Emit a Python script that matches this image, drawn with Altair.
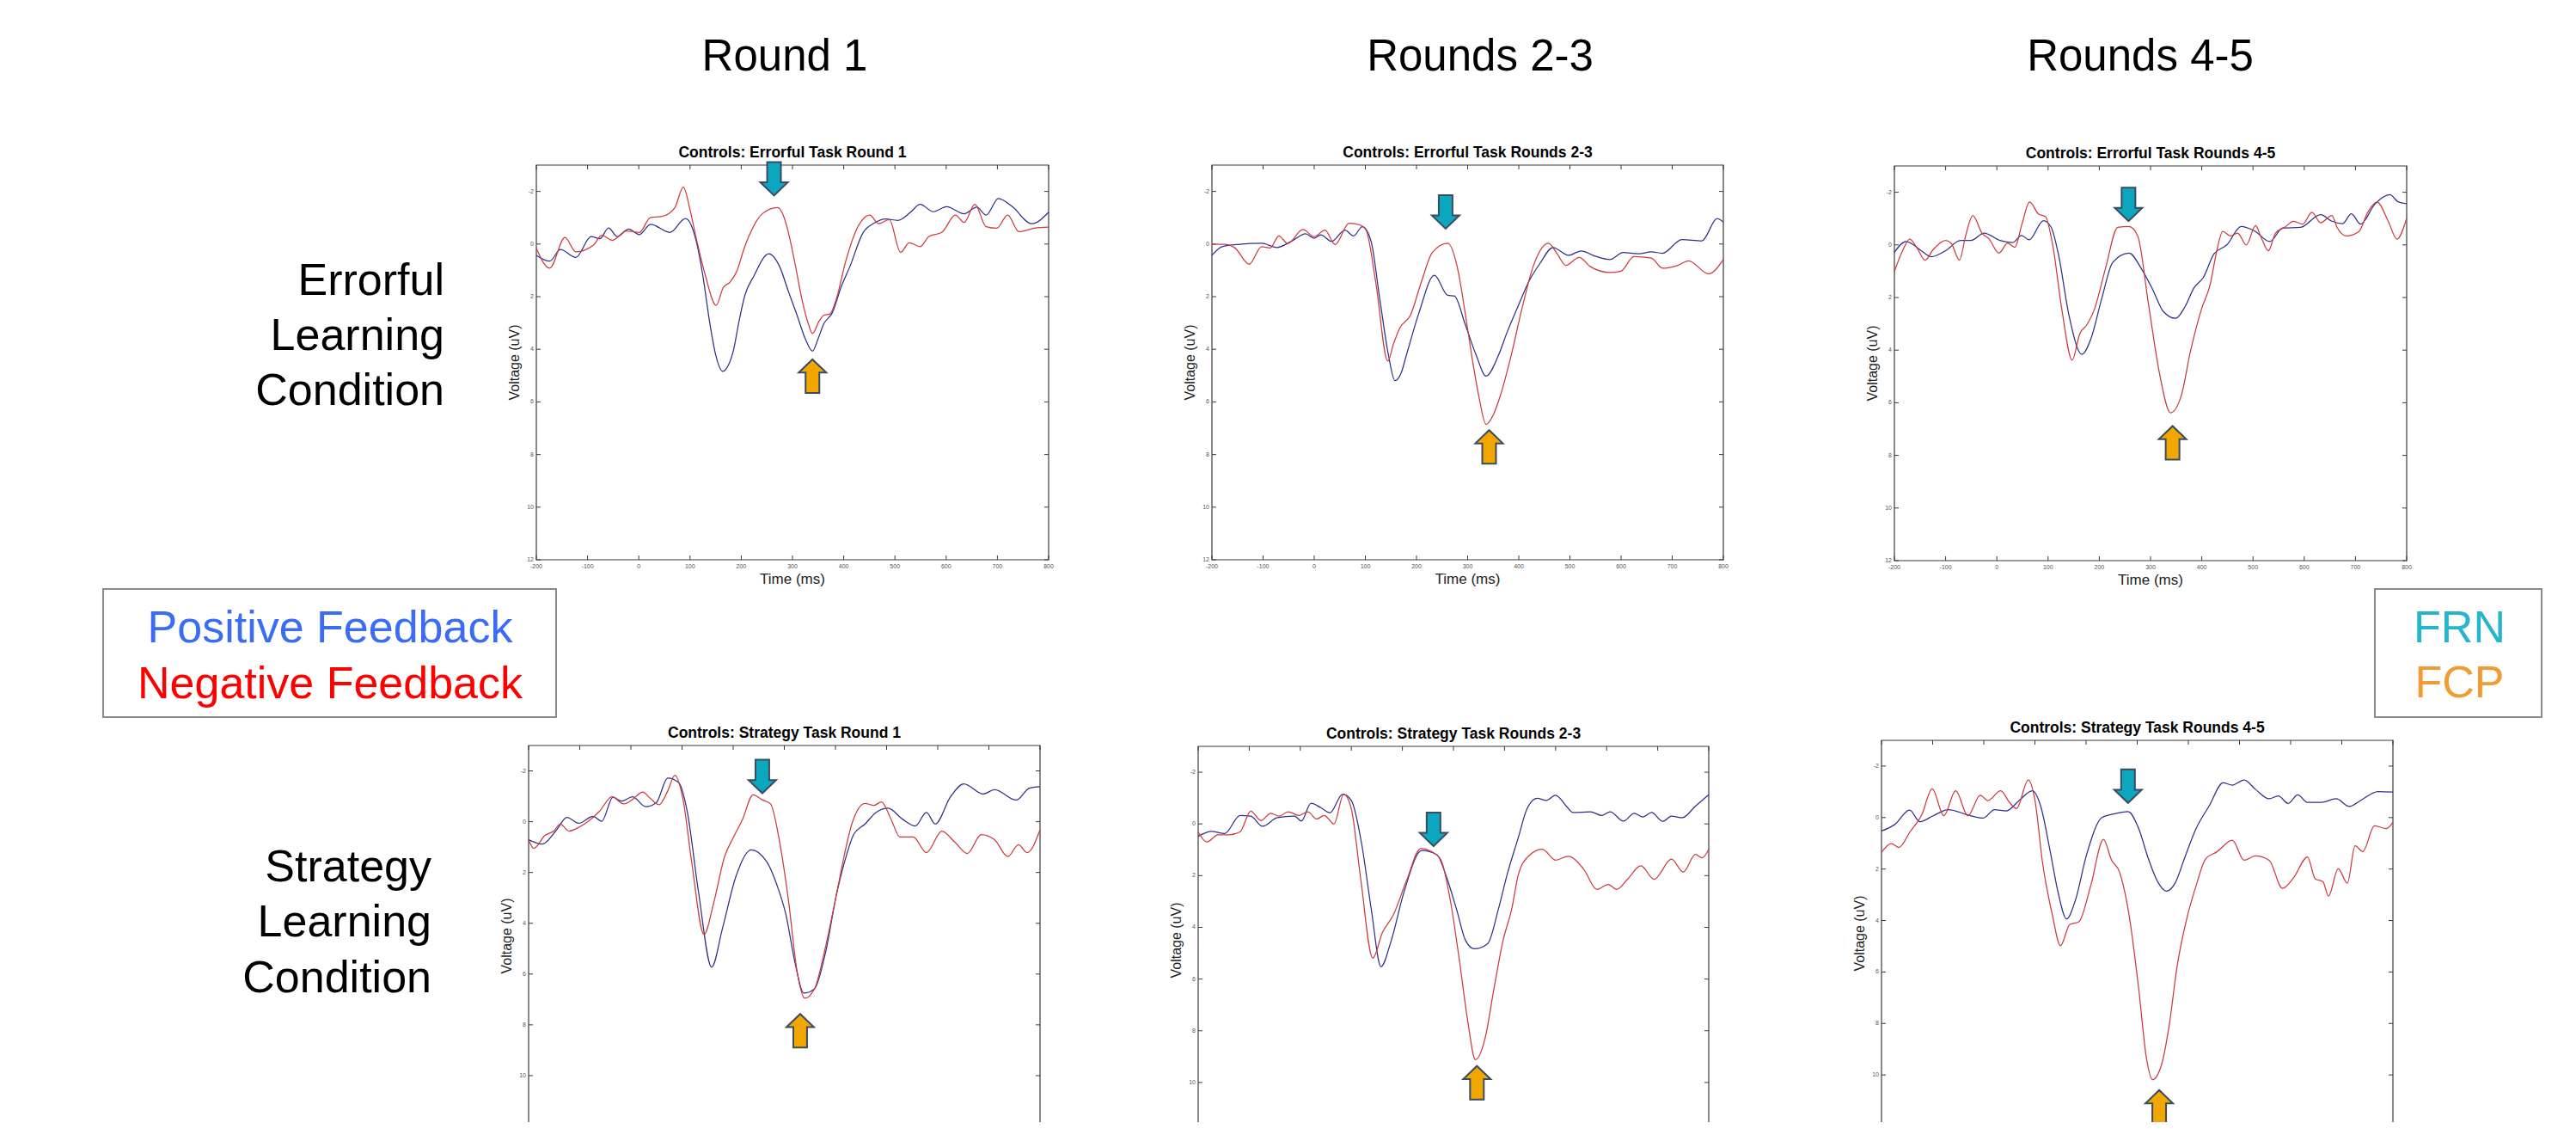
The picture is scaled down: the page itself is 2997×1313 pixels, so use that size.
import altair as alt
import pandas as pd

# ---------------------------------------------------------------- data
XTICKS = [-200, -100, 0, 100, 200, 300, 400, 500, 600, 700, 800]
XTICK_LABELS = ["-200", "-100", "0", "100", "200", "300", "400", "500", "600", "700", "800"]
YTICKS = [-2, 0, 2, 4, 6, 8, 10, 12]
YTICK_LABELS = ["-2", "0", "2", "4", "6", "8", "10", "12"]

COLUMN_HEADERS = ["Round 1", "Rounds 2-3", "Rounds 4-5"]
ROW_LABELS = [["Errorful", "Learning", "Condition"], ["Strategy", "Learning", "Condition"]]
LEGEND_FEEDBACK = ["Positive Feedback", "Negative Feedback"]
LEGEND_COMPONENT = ["FRN", "FCP"]

PANEL_TITLES = [
    "Controls: Errorful Task Round 1",
    "Controls: Errorful Task Rounds 2-3",
    "Controls: Errorful Task Rounds 4-5",
    "Controls: Strategy Task Round 1",
    "Controls: Strategy Task Rounds 2-3",
    "Controls: Strategy Task Rounds 4-5",
]

# (time ms, voltage uV)
P1_NEG = [(-200, 0.16), (-174, 0.92), (-144, -0.25), (-123, 0.30), (-89, 0.05), (-72, -0.33), (-52, -0.14),
          (-24, -0.50), (1, -0.44), (23, -1.01), (44, -1.04), (70, -1.37), (87, -2.16), (100, -1.3),
          (112, -0.23), (130, 1.2), (151, 2.33), (165, 1.65), (178, 1.45), (192, 1.0), (205, 0.2),
          (215, -0.3), (241, -1.15), (271, -1.39), (284, -0.99), (292, -0.44), (305, 0.75), (318, 2.06),
          (331, 3.04), (339, 3.40), (352, 2.93), (361, 2.71), (373, 2.66), (386, 2.06), (404, 0.65),
          (425, -0.55), (451, -1.10), (468, -0.77), (489, -0.93), (511, 0.32), (528, -0.05), (549, 0.1),
          (566, -0.28), (592, -0.45), (618, -1.10), (635, -0.82), (656, -1.51), (678, -0.66), (699, -0.6),
          (720, -1.10), (742, -0.47), (772, -0.6), (800, -0.64)]
P1_POS = [(-200, 0.43), (-174, 0.65), (-153, 0.21), (-123, 0.51), (-93, -0.28), (-76, -0.2), (-59, -0.61),
          (-42, -0.28), (-20, -0.57), (1, -0.36), (23, -0.75), (61, -0.44), (91, -0.97), (112, -0.12),
          (125, 1.2), (138, 2.93), (150, 4.2), (164, 4.84), (175, 4.6), (185, 4.02), (195, 3.0), (207, 1.95),
          (224, 1.24), (254, 0.37), (275, 0.86), (292, 1.8), (309, 2.71), (325, 3.6), (339, 4.07), (350, 3.6),
          (361, 3.04), (378, 2.60), (395, 1.63), (412, 0.86), (438, -0.44), (460, -0.8), (481, -0.95),
          (506, -0.90), (530, -1.2), (549, -1.51), (575, -1.23), (601, -1.42), (635, -1.15), (660, -1.40),
          (678, -1.10), (702, -1.73), (729, -1.42), (767, -0.77), (800, -1.21)]

P2_NEG = [(-200, 0.01), (-176, 0.01), (-155, 0.15), (-127, 0.77), (-103, 0.10), (-86, 0.15), (-69, -0.31),
          (-52, -0.02), (-22, -0.55), (0, -0.28), (21, -0.53), (41, 0.02), (68, -0.79), (90, -0.72),
          (102, -0.5), (120, 1.41), (144, 4.45), (155, 3.8), (167, 3.20), (188, 2.71), (210, 1.41),
          (231, 0.32), (261, -0.03), (282, 1.08), (295, 2.6), (308, 4.24), (322, 5.8), (336, 6.85),
          (350, 6.5), (364, 5.76), (385, 4.24), (407, 2.39), (428, 0.86), (458, -0.03), (475, 0.37),
          (492, 0.81), (518, 0.51), (540, 0.86), (578, 1.08), (600, 1.03), (625, 0.48), (659, 0.53),
          (681, 0.92), (711, 0.81), (732, 0.64), (771, 1.13), (800, 0.59)]
P2_POS = [(-200, 0.43), (-180, 0.10), (-146, 0.01), (-103, -0.03), (-73, 0.13), (-43, -0.12), (-17, -0.39),
          (0, -0.22), (13, -0.35), (34, -0.10), (60, -0.53), (77, -0.31), (94, -0.66), (111, -0.12),
          (128, 2.06), (145, 4.2), (158, 5.19), (170, 4.9), (180, 4.24), (205, 2.60), (235, 1.19),
          (261, 1.95), (274, 1.97), (295, 3.04), (317, 4.24), (336, 5.02), (360, 4.24), (377, 3.36),
          (398, 2.39), (420, 1.41), (441, 0.75), (467, 0.13), (497, 0.43), (522, 0.26), (548, 0.45),
          (578, 0.59), (604, 0.32), (634, 0.37), (659, 0.30), (681, 0.35), (719, -0.17), (758, -0.12),
          (788, -0.97), (800, -0.83)]

P3_NEG = [(-200, 1.01), (-184, 0.22), (-170, -0.22), (-156, 0.11), (-140, 0.58), (-124, 0.17), (-100, -0.17),
          (-89, -0.06), (-73, 0.58), (-61, -0.34), (-47, -1.12), (-29, -0.45), (-15, -0.22), (4, 0.31),
          (21, -0.06), (35, 0.09), (49, -0.79), (64, -1.63), (81, -1.18), (95, -1.07), (109, 0.0),
          (127, 2.47), (147, 4.38), (162, 3.37), (176, 3.03), (190, 2.47), (212, 0.90), (236, -0.67),
          (258, -0.70), (275, -0.34), (296, 2.25), (318, 4.94), (339, 6.38), (360, 5.73), (378, 4.04),
          (399, 2.47), (417, 1.46), (427, 0.45), (441, -0.51), (456, -0.34), (470, -0.45), (487, 0.0),
          (505, -0.73), (516, -0.28), (530, 0.22), (544, -0.45), (562, -0.67), (579, -0.90), (597, -0.79),
          (615, -1.24), (632, -0.84), (654, -1.12), (664, -0.67), (682, -0.34), (707, -0.51), (724, -1.24),
          (742, -1.63), (764, -0.90), (781, -0.22), (800, -1.01)]
P3_POS = [(-200, 0.28), (-177, -0.13), (-149, 0.20), (-128, 0.45), (-100, 0.22), (-71, -0.17), (-50, -0.17),
          (-25, -0.45), (6, -0.17), (31, -0.09), (48, -0.36), (63, -0.19), (91, -0.92), (106, -0.67),
          (120, 0.34), (141, 2.70), (166, 4.16), (183, 3.60), (205, 2.02), (226, 0.67), (258, 0.31),
          (282, 0.90), (304, 1.69), (325, 2.53), (349, 2.79), (367, 2.36), (385, 1.63), (403, 1.24),
          (424, 0.34), (449, 0.0), (477, -0.70), (502, -0.54), (533, -0.13), (558, -0.64), (593, -0.67),
          (632, -1.15), (654, -0.90), (675, -0.81), (692, -1.18), (710, -0.79), (738, -1.55), (767, -1.91),
          (784, -1.63), (800, -1.57)]

P4_NEG = [(-200, 0.71), (-190, 1.05), (-168, 0.54), (-151, 0.37), (-138, 0.09), (-121, 0.37), (-100, 0.20),
          (-83, -0.02), (-61, -0.42), (-37, -0.98), (-14, -0.70), (3, -0.87), (23, -1.17), (38, -0.92),
          (55, -0.67), (72, -1.21), (86, -1.83), (102, -0.87), (119, 1.61), (143, 4.44), (162, 3.19),
          (183, 1.39), (201, 0.60), (218, -0.08), (239, -1.06), (256, -0.87), (273, -0.70), (291, 0.82),
          (308, 3.08), (325, 5.90), (340, 6.95), (359, 6.58), (381, 4.89), (402, 2.86), (419, 1.16),
          (432, 0.09), (458, -0.72), (475, -0.64), (490, -0.78), (509, -0.08), (526, 0.60), (552, 0.60),
          (578, 1.22), (608, 0.37), (634, 0.82), (658, 1.25), (685, 0.51), (711, 0.71), (737, 1.37),
          (758, 0.91), (775, 1.22), (800, 0.32)]
P4_POS = [(-200, 0.71), (-173, 0.88), (-147, 0.37), (-125, -0.17), (-102, 0.06), (-74, -0.21), (-57, -0.02),
          (-35, -0.96), (-18, -0.81), (3, -0.98), (29, -0.59), (50, -0.76), (72, -1.72), (93, -1.55),
          (110, -0.42), (132, 2.74), (158, 5.73), (179, 4.21), (205, 2.18), (235, 1.11), (265, 1.56),
          (286, 2.52), (303, 3.65), (321, 5.56), (338, 6.75), (359, 6.58), (381, 5.11), (402, 2.86),
          (419, 1.50), (436, 0.49), (458, 0.09), (479, -0.36), (503, -0.53), (531, -0.10), (556, 0.17),
          (578, -0.36), (595, 0.09), (625, -0.98), (651, -1.49), (689, -1.09), (711, -1.26), (754, -0.85),
          (779, -1.32), (800, -1.38)]

P5_NEG = [(-200, 0.31), (-183, 0.70), (-161, 0.42), (-140, 0.42), (-118, 0.31), (-97, -0.49), (-77, -0.13),
          (-58, -0.41), (-41, -0.30), (-24, -0.47), (-3, -0.33), (15, -0.47), (32, -0.19), (47, -0.33),
          (66, 0.0), (85, -1.15), (100, -0.58), (118, 2.08), (142, 5.19), (161, 4.19), (182, 3.53),
          (208, 2.20), (236, 0.95), (259, 1.09), (276, 1.42), (294, 2.97), (311, 5.19), (328, 7.63),
          (343, 9.12), (362, 8.29), (379, 6.41), (397, 4.52), (414, 3.30), (427, 1.97), (444, 1.31),
          (474, 0.98), (500, 1.40), (525, 1.25), (555, 1.75), (581, 2.53), (603, 2.34), (620, 2.53),
          (641, 2.14), (667, 1.62), (693, 2.14), (727, 1.36), (750, 1.86), (774, 1.18), (787, 1.31), (800, 0.98)]
P5_POS = [(-200, 0.48), (-174, 0.29), (-148, 0.37), (-118, -0.33), (-97, -0.30), (-74, 0.09), (-45, -0.24),
          (-11, -0.30), (2, -0.11), (21, -0.80), (40, -0.63), (58, -0.43), (83, -1.15), (100, -0.91),
          (120, 0.75), (139, 3.30), (158, 5.52), (178, 4.52), (203, 2.64), (238, 1.03), (268, 1.20),
          (285, 1.97), (306, 3.30), (324, 4.52), (341, 4.83), (367, 4.63), (388, 3.30), (405, 1.97),
          (427, 0.53), (444, -0.58), (464, -0.99), (482, -0.91), (500, -1.11), (521, -0.69), (534, -0.44),
          (568, -0.47), (590, -0.33), (607, -0.47), (633, -0.11), (654, -0.41), (671, -0.27), (688, -0.44),
          (710, -0.10), (727, -0.30), (748, -0.24), (774, -0.69), (800, -1.13)]

P6_NEG = [(-200, 1.35), (-181, 1.01), (-166, 1.16), (-144, 0.55), (-121, -0.12), (-101, -1.12), (-78, -0.07),
          (-55, -1.04), (-31, -0.07), (-7, -0.87), (8, -0.66), (33, -1.04), (51, -0.57), (64, -0.35),
          (87, -1.46), (100, -0.68), (115, 1.77), (134, 3.78), (150, 4.98), (168, 4.16), (186, 4.05),
          (209, 2.66), (234, 0.85), (250, 1.66), (265, 2.10), (284, 3.78), (303, 6.67), (318, 9.34),
          (330, 10.18), (348, 9.57), (363, 8.01), (378, 5.78), (396, 4.00), (415, 2.66), (434, 1.60),
          (456, 1.33), (486, 0.88), (509, 1.66), (531, 1.49), (558, 1.66), (584, 2.75), (606, 2.33),
          (633, 1.53), (648, 2.38), (663, 2.49), (674, 3.05), (693, 1.99), (711, 2.55), (726, 1.10),
          (741, 1.32), (764, 0.32), (787, 0.43), (800, 0.19)]
P6_POS = [(-200, 0.52), (-174, 0.27), (-145, -0.29), (-125, 0.16), (-99, -0.07), (-69, -0.31), (-31, -0.10),
          (-1, 0.02), (21, -0.31), (44, -0.26), (70, -0.68), (95, -1.04), (111, -0.46), (130, 1.33),
          (145, 2.88), (162, 3.94), (179, 3.22), (201, 1.44), (231, 0.0), (254, -0.14), (282, -0.23),
          (303, 0.43), (321, 1.55), (340, 2.49), (357, 2.86), (374, 2.55), (393, 1.55), (415, 0.43),
          (441, -0.46), (468, -1.35), (486, -1.26), (509, -1.46), (531, -1.10), (558, -0.73), (576, -0.84),
          (595, -0.55), (614, -0.88), (633, -0.59), (659, -0.59), (689, -0.73), (715, -0.43), (738, -0.68),
          (771, -1.01), (800, -0.99)]

NEG = [P1_NEG, P2_NEG, P3_NEG, P4_NEG, P5_NEG, P6_NEG]
POS = [P1_POS, P2_POS, P3_POS, P4_POS, P5_POS, P6_POS]

# FRN (down arrow) and FCP (up arrow) markers: centre time / voltage
FRN_T = [264, 257, 257, 257, 261, 282]
FRN_V = [-2.48, -1.22, -1.54, -1.78, 0.21, -1.22]
FCP_T = [339, 342, 343, 331, 346, 343]
FCP_V = [5.02, 7.71, 7.52, 8.23, 10.01, 11.24]

# ---------------------------------------------------------------- layout / style
M = 8                       # page margin
W, H = 2997 - 2 * M, 1313 - 2 * M
# plot boxes on the page: left, right, top, bottom
PANEL_BOX = [(624, 1220, 192, 651), (1410, 2005, 192, 651), (2204, 2800, 193, 652),
             (615, 1210, 867, 1310), (1394, 1988, 868, 1319), (2189, 2784, 861, 1310)]
FONT = "Liberation Sans"
RED = "#cc3b3f"
BLUE = "#30308a"
FRAME = "#3a3a3a"
CYAN = "#0aa7be"
ORANGE = "#f2a600"
OUTLINE = "#3b4b61"
TL = 5  # tick length
DOWN = "M-0.41,-1L0.41,-1L0.41,0.21L0.82,0.21L0,1L-0.82,0.21L-0.41,0.21Z"
UP = "M-0.41,1L0.41,1L0.41,-0.21L0.82,-0.21L0,-1L-0.82,-0.21L-0.41,-0.21Z"

ONE = pd.DataFrame({"a": [0]})


def panel(i):
    x0, x1, y0, y1 = PANEL_BOX[i]
    bottom_row = i >= 3   # the lower row runs off the bottom of the picture
    xs = alt.Scale(domain=[-200, 800], range=[x0 - M, x1 - M], nice=False, zero=False)
    ys = alt.Scale(domain=[-3, 12], range=[y0 - M, y1 - M], nice=False, zero=False)

    def X(f):
        return alt.X(f, type="quantitative", scale=xs, axis=None)

    def Y(f):
        return alt.Y(f, type="quantitative", scale=ys, axis=None)

    def XD(d):
        return alt.XDatum(d, type="quantitative", scale=xs, axis=None)

    def YD(d):
        return alt.YDatum(d, type="quantitative", scale=ys, axis=None)

    xt = pd.DataFrame({"t": XTICKS, "lab": XTICK_LABELS})
    yt = pd.DataFrame({"v": YTICKS, "lab": YTICK_LABELS})
    yt_lab = yt[yt["v"] < 12] if bottom_row else yt
    layers = []
    layers.append(alt.Chart(ONE).mark_rect(fill="white", stroke=FRAME, strokeWidth=1.2)
                  .encode(x=XD(-200), x2=alt.X2Datum(800), y=YD(-3), y2=alt.Y2Datum(12)))
    layers.append(alt.Chart(xt).mark_tick(orient="vertical", size=TL, thickness=1, color=FRAME,
                                          yOffset=TL / 2, opacity=1).encode(x=X("t"), y=YD(-3)))
    layers.append(alt.Chart(xt).mark_tick(orient="vertical", size=TL, thickness=1, color=FRAME,
                                          yOffset=-TL / 2, opacity=1).encode(x=X("t"), y=YD(12)))
    layers.append(alt.Chart(yt).mark_tick(orient="horizontal", size=TL, thickness=1, color=FRAME,
                                          xOffset=TL / 2, opacity=1).encode(x=XD(-200), y=Y("v")))
    layers.append(alt.Chart(yt).mark_tick(orient="horizontal", size=TL, thickness=1, color=FRAME,
                                          xOffset=-TL / 2, opacity=1).encode(x=XD(800), y=Y("v")))
    if not bottom_row:
        layers.append(alt.Chart(xt).mark_text(font=FONT, fontSize=7, color="#555555", baseline="middle",
                                              align="center", yOffset=8)
                      .encode(x=X("t"), y=YD(12), text="lab:N"))
    layers.append(alt.Chart(yt_lab).mark_text(font=FONT, fontSize=7, color="#555555", baseline="middle",
                                              align="right", xOffset=-3)
                  .encode(x=XD(-200), y=Y("v"), text="lab:N"))
    for pairs, col in ((POS[i], BLUE), (NEG[i], RED)):
        df = pd.DataFrame(pairs, columns=["t", "v"])
        layers.append(alt.Chart(df).mark_line(color=col, strokeWidth=1.25, interpolate="monotone")
                      .encode(x=X("t"), y=Y("v")))
    for tt, vv, shp, fill in ((FRN_T[i], FRN_V[i], DOWN, CYAN), (FCP_T[i], FCP_V[i], UP, ORANGE)):
        df = pd.DataFrame({"t": [tt], "v": [vv]})
        layers.append(alt.Chart(df).mark_point(shape=shp, size=1521, filled=True, fill=fill,
                                               stroke=OUTLINE, strokeWidth=2, opacity=1)
                      .encode(x=X("t"), y=Y("v")))
    layers.append(alt.Chart(ONE).mark_text(text=PANEL_TITLES[i], font=FONT, fontSize=17.5,
                                           fontWeight="bold", color="black", baseline="middle",
                                           align="center", yOffset=-14.5)
                  .encode(x=XD(300), y=YD(-3)))
    layers.append(alt.Chart(ONE).mark_text(text="Voltage (uV)", font=FONT, fontSize=16, color="#222222",
                                           baseline="middle", align="center", angle=270, xOffset=-25)
                  .encode(x=XD(-200), y=YD(4.5)))
    if not bottom_row:
        layers.append(alt.Chart(ONE).mark_text(text="Time (ms)", font=FONT, fontSize=17, color="#222222",
                                               baseline="middle", align="center", yOffset=22.5)
                      .encode(x=XD(300), y=YD(12)))
    return alt.layer(*layers)


def txt(s, x, y, size, color, align="center", weight="normal"):
    return alt.Chart(ONE).mark_text(text=s, font=FONT, fontSize=size, color=color, align=align,
                                    baseline="alphabetic", fontWeight=weight).encode(
        x=alt.value(x - M), y=alt.value(y - M))


def box(x0, x1, y0, y1):
    return alt.Chart(ONE).mark_rect(fill="white", stroke="#8a8a8a", strokeWidth=2).encode(
        x=alt.value(x0 - M), x2=alt.value(x1 - M), y=alt.value(y0 - M), y2=alt.value(y1 - M))


deco = []
for s, cx in zip(COLUMN_HEADERS, [913, 1722, 2490]):
    deco.append(txt(s, cx, 81.5, 51, "black"))
for lines, rx, bases in ((ROW_LABELS[0], 517, [343.1, 407.4, 470.6]),
                         (ROW_LABELS[1], 502, [1025, 1089.4, 1153.7])):
    for s, b in zip(lines, bases):
        deco.append(txt(s, rx, b, 52, "black", align="right"))
deco.append(box(120, 647, 685, 834))
deco.append(txt(LEGEND_FEEDBACK[0], 384, 746.7, 52, "#3a6cf4"))
deco.append(txt(LEGEND_FEEDBACK[1], 384, 811.7, 52, "#ff0000"))
deco.append(box(2763, 2957, 685, 834))
deco.append(txt(LEGEND_COMPONENT[0], 2861.5, 746.7, 52, "#25b5cc"))
deco.append(txt(LEGEND_COMPONENT[1], 2861.5, 810.7, 52, "#f29b32"))

chart = (
    alt.layer(*deco, *[panel(i) for i in range(6)])
    .resolve_scale(x="independent", y="independent")
    .properties(width=W, height=H, padding=0, autosize=alt.AutoSizeParams(type="none"),
                background="white")
    .configure_view(stroke="transparent")
)

chart.save("out.html", embed_options={"renderer": "svg", "actions": False})
